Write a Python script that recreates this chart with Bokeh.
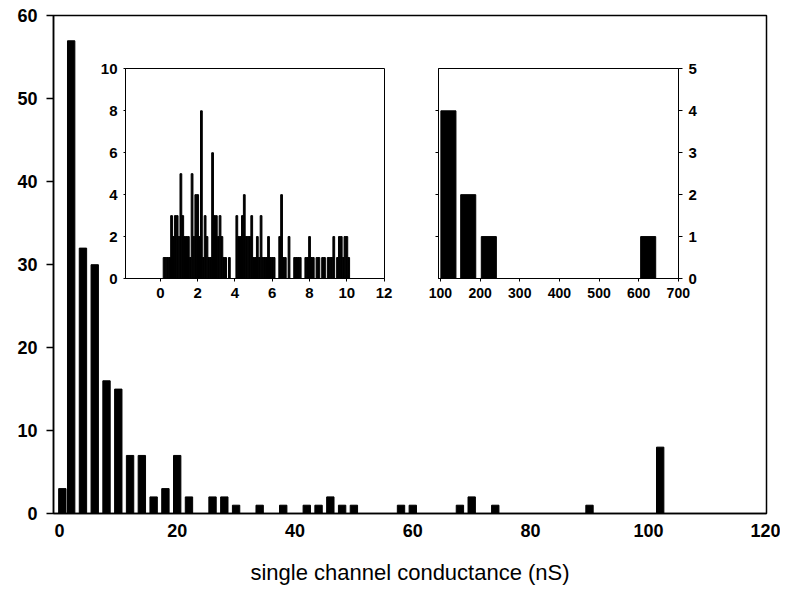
from bokeh.plotting import figure
from bokeh.models import Range1d, LinearAxis, FixedTicker, GridBox
from bokeh.embed import file_html
from bokeh.resources import INLINE

# ---- data ----
main_x = [0.5, 2, 4, 6, 8, 10, 12, 14, 16, 18, 20, 22, 26, 28, 30, 34, 38,
          42, 44, 46, 48, 50, 58, 60, 68, 70, 74, 90, 102]
main_counts = [3, 57, 32, 30, 16, 15, 7, 7, 2, 3, 7, 2, 2, 2, 1, 1, 1,
               1, 1, 2, 1, 1, 1, 1, 1, 2, 1, 1, 8]
main_xticks = [0, 20, 40, 60, 80, 100, 120]
main_yticks = [0, 10, 20, 30, 40, 50, 60]

inset1_x = [0.2, 0.3, 0.4, 0.5, 0.6, 0.7, 0.8, 0.9, 1.0, 1.1, 1.2, 1.3, 1.4, 1.5,
            1.6, 1.7, 1.8, 1.9, 2.0, 2.1, 2.2, 2.3, 2.4, 2.5, 2.6, 2.7, 2.8, 2.9,
            3.0, 3.1, 3.2, 3.3, 3.4, 3.5, 3.7, 4.1, 4.2, 4.3, 4.4, 4.5, 4.6, 4.7,
            4.8, 4.9, 5.0, 5.1, 5.2, 5.3, 5.4, 5.5, 5.6, 5.7, 5.8, 5.9, 6.0, 6.1,
            6.4, 6.5, 6.6, 6.7, 6.9, 7.2, 7.3, 7.4, 7.5, 7.8, 7.9, 8.0, 8.1, 8.2,
            8.4, 8.5, 8.7, 8.8, 9.0, 9.1, 9.2, 9.3, 9.5, 9.6, 9.7, 9.8, 9.9, 10.0,
            10.1]
inset1_counts = [1, 1, 1, 1, 3, 2, 3, 3, 2, 5, 3, 2, 2, 2,
                 1, 5, 2, 4, 4, 2, 8, 1, 3, 2, 1, 1, 6, 3,
                 3, 2, 3, 2, 1, 1, 1, 3, 2, 2, 3, 4, 2, 2,
                 2, 3, 1, 1, 2, 1, 3, 1, 1, 1, 2, 1, 1, 1,
                 2, 4, 1, 1, 2, 1, 1, 1, 1, 1, 1, 2, 1, 1,
                 1, 1, 1, 1, 1, 1, 1, 2, 1, 2, 2, 1, 2, 2,
                 1]
inset1_xticks = [0, 2, 4, 6, 8, 10, 12]
inset1_yticks = [0, 2, 4, 6, 8, 10]

inset2_x = [120, 170, 222, 624]
inset2_counts = [4, 2, 1, 1]
inset2_xticks = [100, 200, 300, 400, 500, 600, 700]
inset2_yticks = [0, 1, 2, 3, 4, 5]
inset2_minor_left = [1, 2, 3, 4]

FONT = "Liberation Sans"

# ---- main figure ----
p = figure(width=780, height=587, output_backend="svg", toolbar_location=None,
           x_range=Range1d(-1.0, 120.05), y_range=Range1d(0, 60.05),
           min_border_left=53, min_border_right=14, min_border_top=15, min_border_bottom=74)
p.vbar(x=main_x, top=main_counts, width=1.25, bottom=0, color="black")
p.grid.visible = False
p.outline_line_color = "black"
p.outline_line_width = 1.5
p.background_fill_color = "white"

for ax in (p.xaxis[0], p.yaxis[0]):
    ax.axis_line_color = "black"
    ax.axis_line_width = 1.5
    ax.major_tick_line_color = "black"
    ax.major_tick_line_width = 1.5
    ax.minor_tick_line_color = None
    ax.major_label_text_font = FONT
    ax.major_label_text_font_size = "18px"
    ax.major_label_text_font_style = "bold"
    ax.major_label_text_color = "black"

p.xaxis[0].ticker = FixedTicker(ticks=main_xticks)
p.xaxis[0].major_tick_out = 0
p.xaxis[0].major_tick_in = 0
p.xaxis[0].major_label_standoff = 10
p.xaxis[0].axis_label = "single channel conductance (nS)"
p.xaxis[0].axis_label_text_font = FONT
p.xaxis[0].axis_label_text_font_style = "normal"
p.xaxis[0].axis_label_text_font_size = "22px"
p.xaxis[0].axis_label_text_color = "black"
p.xaxis[0].axis_label_standoff = 20

p.yaxis[0].ticker = FixedTicker(ticks=main_yticks)
p.yaxis[0].major_tick_out = 7
p.yaxis[0].major_tick_in = 0
p.yaxis[0].major_label_standoff = 9


def style_axis(ax, ticks, size="14px", tick_out=3, labels=True):
    ax.ticker = FixedTicker(ticks=ticks)
    ax.axis_line_color = "black"
    ax.axis_line_width = 1
    ax.major_tick_line_color = "black"
    ax.major_tick_out = tick_out
    ax.major_tick_in = 0
    ax.minor_tick_line_color = None
    ax.major_label_text_font = FONT
    ax.major_label_text_font_size = size
    ax.major_label_text_font_style = "bold"
    ax.major_label_text_color = "black"
    ax.major_label_standoff = 6
    if not labels:
        ax.major_label_overrides = {t: "" for t in ticks}


# ---- inset 1 ----
ins1 = figure(width=303, height=257, output_backend="svg", toolbar_location=None,
              x_range=Range1d(-1.87, 12.02), y_range=Range1d(0, 10.02),
              min_border_left=32, min_border_right=12, min_border_top=11, min_border_bottom=32)
ins1.vbar(x=inset1_x, top=inset1_counts, width=0.095, bottom=0, color="black")
ins1.grid.visible = False
ins1.outline_line_color = "black"
ins1.outline_line_width = 1
ins1.background_fill_alpha = 0
ins1.border_fill_alpha = 0
style_axis(ins1.xaxis[0], inset1_xticks, size="15px")
style_axis(ins1.yaxis[0], inset1_yticks, size="15px", tick_out=2)

# ---- inset 2 ----
ins2 = figure(width=280, height=257, output_backend="svg", toolbar_location=None,
              x_range=Range1d(95, 700.5), y_range=Range1d(0, 5.01), y_axis_location="right",
              min_border_left=12, min_border_right=28, min_border_top=10, min_border_bottom=36)
ins2.vbar(x=inset2_x, top=inset2_counts, width=38, bottom=0, color="black")
ins2.grid.visible = False
ins2.outline_line_color = "black"
ins2.outline_line_width = 1
ins2.background_fill_alpha = 0
ins2.border_fill_alpha = 0
style_axis(ins2.xaxis[0], inset2_xticks)
style_axis(ins2.yaxis[0], inset2_yticks, size="15px", tick_out=4)
left2 = LinearAxis()
style_axis(left2, inset2_minor_left, tick_out=3, labels=False)
ins2.add_layout(left2, "left")

layout = GridBox(children=[(p, 0, 0, 3, 5), (ins1, 1, 1), (ins2, 1, 3)],
                 rows=["57px", "257px", "273px"],
                 cols=["93px", "303px", "30px", "280px", "74px"])

open("out.html", "w").write(file_html(layout, INLINE))
